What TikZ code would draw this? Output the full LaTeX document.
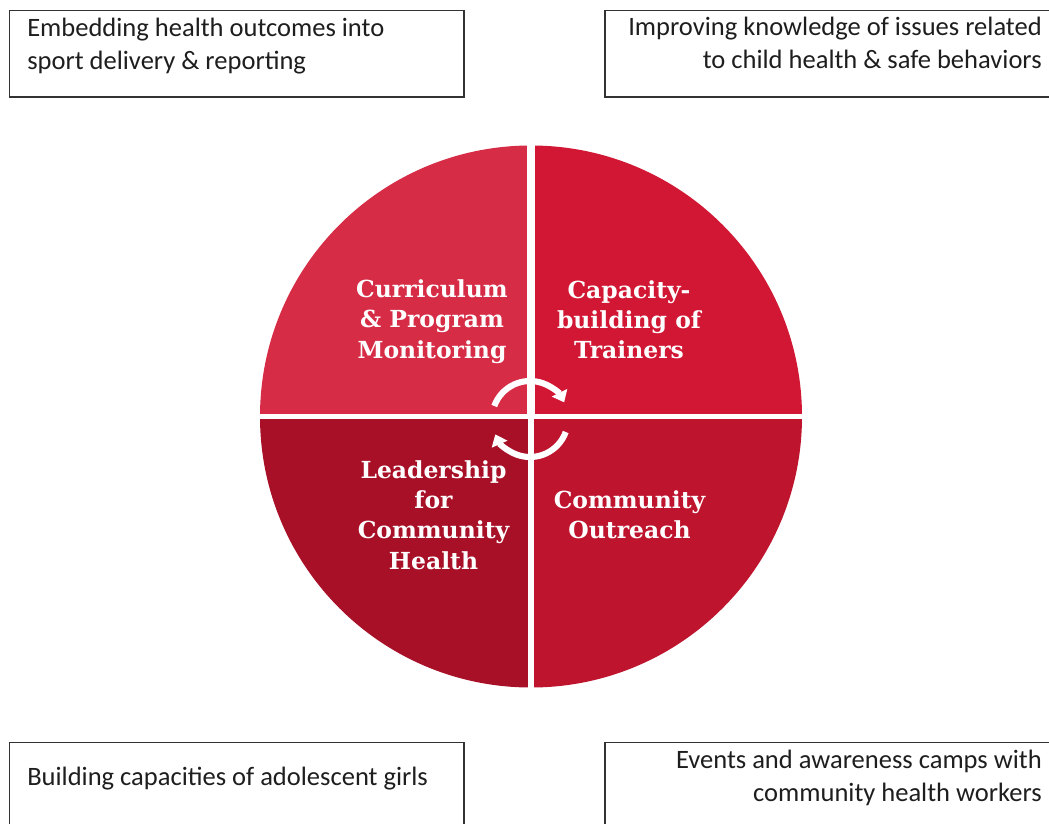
\documentclass[tikz,border=0pt]{standalone}
\usepackage{fontspec}
\setmainfont{Carlito}
\newfontfamily\circfont{DejaVu Serif}
\usetikzlibrary{arrows.meta}
\definecolor{qTL}{RGB}{214,44,70}
\definecolor{qTR}{RGB}{210,23,52}
\definecolor{qBL}{RGB}{168,16,40}
\definecolor{qBR}{RGB}{190,20,46}
\definecolor{boxline}{RGB}{50,50,50}
\definecolor{boxtext}{RGB}{30,30,30}
\begin{document}
\begin{tikzpicture}[x=0.75pt,y=-0.75pt,
  boxframe/.style={draw=boxline, line width=1.2pt},
  boxtxt/.style={inner sep=0pt, text=boxtext, font=\fontsize{19.9}{24.6}\selectfont},
  quadtxt/.style={inner sep=0pt, text=white, anchor=base, font=\circfont\bfseries\fontsize{17.6}{22.8}\selectfont},
  cyc/.style={draw=white, line width=4.6pt, -{Triangle[length=8pt,width=12.5pt]}}]
\useasboundingbox (0,0) rectangle (1049,824);
\clip (0,0) rectangle (1049,824);
\fill[white] (0,0) rectangle (1049,824);

% outer boxes
\draw[boxframe] (9.5,10.5) rectangle (464,97);
\draw[boxframe] (605,10.5) rectangle (1060,97);
\draw[boxframe] (9.5,742.5) rectangle (464,835);
\draw[boxframe] (605,742.5) rectangle (1060,835);

\node[boxtxt, anchor=base west] (t1) at (27,36.5) {\begin{tabular}[t]{@{}l@{}}Embedding health outcomes into\\sport delivery \& reporting\end{tabular}};
\node[boxtxt, anchor=base east] (t2) at (1042,36) {\begin{tabular}[t]{@{}r@{}}Improving knowledge of issues related\\to child health \& safe behaviors\end{tabular}};
\node[boxtxt, anchor=base west] (t3) at (27,785) {Building capacities of adolescent girls};
\node[boxtxt, anchor=base east] (t4) at (1042,768.5) {\begin{tabular}[t]{@{}r@{}}Events and awareness camps with\\community health workers\end{tabular}};

% circle quadrants
\coordinate (c) at (531,416.5);
\fill[qTL] (c) -- ++(180:271) arc[start angle=180,end angle=270,radius=271] -- cycle;
\fill[qTR] (c) -- ++(270:271) arc[start angle=270,end angle=360,radius=271] -- cycle;
\fill[qBR] (c) -- ++(0:271) arc[start angle=0,end angle=90,radius=271] -- cycle;
\fill[qBL] (c) -- ++(90:271) arc[start angle=90,end angle=180,radius=271] -- cycle;

% white gaps
\draw[white, line width=4.2pt] (c) ++(-280,0) -- ++(560,0);
\draw[white, line width=6pt] (c) ++(0,-280) -- (c);
\draw[white, line width=4pt] (c) -- ++(0,280);

% quadrant labels
\node[quadtxt] (q1) at (432,297.5) {\begin{tabular}[t]{@{}c@{}}Curriculum\\\& Program\\Monitoring\end{tabular}};
\node[quadtxt] (q2) at (629,298) {\begin{tabular}[t]{@{}c@{}}Capacity-\\building of\\Trainers\end{tabular}};
\node[quadtxt] (q3) at (433.5,478) {\begin{tabular}[t]{@{}c@{}}Leadership\\for\\Community\\Health\end{tabular}};
\node[quadtxt] (q4) at (629.5,508.5) {\begin{tabular}[t]{@{}c@{}}Community\\Outreach\end{tabular}};

% cycle arrows
\coordinate (ac) at (530,419);
\draw[cyc] (ac) ++(200:38) arc[start angle=200,end angle=334,radius=38];
\draw[cyc] (ac) ++(20:38) arc[start angle=20,end angle=156,radius=38];
\end{tikzpicture}
\end{document}
